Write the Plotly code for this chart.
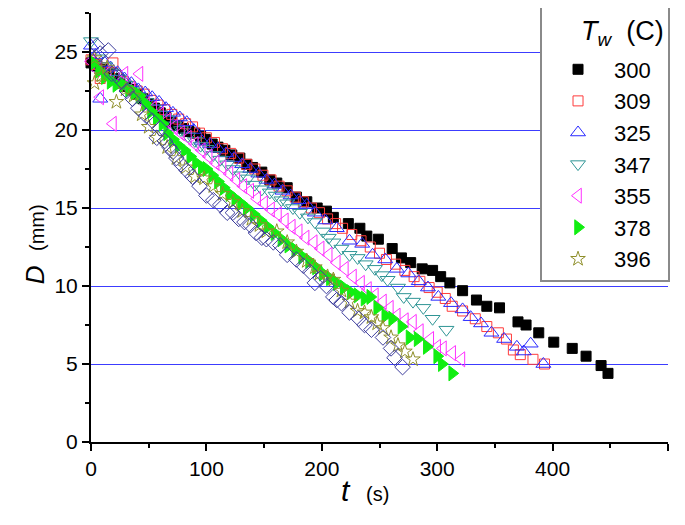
import plotly.graph_objects as go

# ---- data ----
t_300 = [0,5,10,15,20,25,30,35,40,45,50,55,60,65,70,75,80,85,90,95,99,105,110,116,122,129,135,140,148,155,161,170,178,187,196,204,210,223,233,239,249,261,269,277,287,296,303,311,322,334,343,354,370,377,388,401,417,429,442,448]
D_300 = [24.3,24.1,23.9,23.6,23.3,23.0,22.8,22.6,22.3,22.0,21.7,21.4,21.1,20.8,20.5,20.3,20.1,19.9,19.8,19.6,19.4,19.1,18.9,18.7,18.4,18.2,17.8,17.6,17.3,16.8,16.6,16.3,15.7,15.4,15.0,14.8,14.4,14.0,13.7,13.2,13.0,12.4,11.8,11.5,11.1,11.0,10.6,10.2,9.7,9.1,8.7,8.6,7.7,7.5,7.0,6.4,6.0,5.5,4.9,4.4]

t_309 = [0,5,8,10,16,19,22,28,34,40,46,52,58,64,70,76,82,88,94,100,107,114,121,128,135,142,149,156,163,170,177,184,191,198,205,212,218,226,234,242,250,256,264,272,280,285,293,300,307,313,322,333,343,353,360,366,372,383,393]
D_309 = [24.5,24.2,23.3,24.0,23.7,24.3,23.5,23.1,22.8,22.5,22.3,21.9,21.6,21.3,21.0,20.7,20.4,20.2,19.8,19.5,19.2,18.8,18.5,18.2,17.8,17.5,17.1,16.8,16.4,16.1,15.7,15.4,15.0,14.7,14.3,14.0,13.7,13.3,12.9,12.5,12.1,11.7,11.4,11.0,10.6,10.3,9.9,9.6,9.2,8.7,8.4,7.9,7.4,7.0,6.6,5.9,5.6,5.3,5.0]

t_325 = [0,4,8,12,17,23,29,35,41,47,53,59,65,71,77,83,89,96,103,110,117,124,131,138,145,152,159,166,173,180,187,194,203,213,224,235,244,255,265,275,284,292,301,312,322,329,338,347,358,369,375,381,392]
D_325 = [25.4,24.8,22.0,24.3,24.0,23.7,23.3,23.0,22.6,22.4,22.1,21.8,21.4,21.1,20.8,20.5,20.0,19.3,19.1,18.8,18.5,18.2,17.8,17.5,17.2,16.8,16.5,16.1,15.8,15.5,15.2,14.7,14.2,13.7,12.9,12.7,12.0,11.7,11.1,10.8,10.3,9.9,9.3,8.9,8.5,8.0,7.6,7.0,6.6,6.1,5.8,6.3,5.0]

t_347 = [0,6,12,18,24,30,36,42,48,54,60,66,72,78,84,90,95,100,106,112,118,123,130,136,142,148,155,160,165,170,175,181,188,194,201,206,210,217,224,231,238,246,252,257,266,271,279,288,296,308]
D_347 = [25.7,24.6,24.1,23.7,23.3,22.9,22.5,22.1,21.8,21.4,21.0,20.7,20.3,20.0,19.6,19.3,19.0,18.8,18.4,18.1,17.8,17.5,17.1,16.9,16.5,16.2,16.0,15.8,15.5,15.3,15.0,14.7,14.4,14.1,13.5,13.1,12.8,12.4,12.0,11.8,11.4,11.1,10.7,10.4,9.9,9.3,9.0,8.6,7.9,7.2]

t_355 = [0,5,8,14,19,24,29,35,42,48,54,60,66,72,78,84,90,96,102,108,114,120,126,132,138,144,150,156,162,168,174,180,186,193,199,206,213,220,227,234,240,246,253,259,265,272,279,285,294,300,305,313,321]
D_355 = [24.4,23.9,22.1,23.6,20.4,23.0,23.6,22.6,23.6,21.6,21.4,21.0,20.6,20.2,19.8,19.5,19.1,18.7,18.3,17.9,17.6,17.2,16.8,16.4,16.1,15.6,15.3,14.9,14.6,14.2,13.8,13.5,13.1,12.8,12.4,12.0,11.5,11.1,10.6,10.2,9.8,9.4,9.0,8.6,8.1,7.8,7.7,7.1,6.6,6.1,6.0,5.7,5.3]

t_378 = [2,7,12,17,22,28,33,38,42,47,52,57,62,66,71,76,81,86,91,96,100,105,110,115,120,125,130,135,141,147,153,159,165,171,177,183,189,195,201,207,213,219,225,231,237,242,248,255,261,269,276,283,291,300,304,313]
D_378 = [24.3,23.8,23.4,23.1,22.9,22.9,22.6,22.4,22.2,21.7,21.2,20.8,20.4,19.8,19.4,19.0,18.7,18.3,17.9,17.6,17.5,17.1,16.7,16.3,15.9,15.6,15.3,15.0,14.6,14.2,13.8,13.4,13.0,12.6,12.3,11.9,11.6,11.2,10.8,10.5,10.2,9.9,9.6,9.4,9.2,9.3,8.6,8.1,7.9,7.4,6.7,6.6,6.1,5.5,5.0,4.4]

t_396 = [3,3,9,14,22,30,37,44,50,57,66,74,82,90,98,106,114,123,131,139,146,152,161,170,178,187,194,198,205,210,217,224,231,237,243,248,253,260,266,272,279]
D_396 = [24.6,23.0,23.5,24.0,21.8,22.6,22.2,21.0,20.2,19.5,18.9,18.2,17.6,17.0,16.9,16.4,15.9,15.4,14.8,14.3,13.9,13.5,13.5,12.8,12.2,11.6,11.2,10.8,10.6,10.4,9.7,9.0,8.4,8.3,8.0,7.6,7.3,6.7,6.2,5.8,5.3]

# unlabeled diamond series (not in legend)
t_dia = [5,8,15,18,22,27,31,36,41,48,53,57,60,64,68,71,74,78,83,88,94,100,106,112,118,123,128,133,138,143,148,152,158,164,170,178,184,190,194,199,204,210,213,217,224,232,237,243,253,260,263,270]
D_dia = [25.4,24.9,25.1,23.6,23.5,23.1,22.5,22.0,21.4,20.9,20.6,19.5,20.1,19.3,18.9,18.6,18.2,17.8,17.4,17.0,16.4,15.8,15.5,15.2,14.7,14.7,14.3,14.1,13.9,13.4,13.1,13.0,12.8,12.6,12.0,11.7,11.3,10.9,10.2,10.5,10.0,9.3,9.1,8.9,8.3,7.9,7.5,7.2,6.7,6.0,5.4,4.8]

labels = ["300", "309", "325", "347", "355", "378", "396"]
x_ticks = [0, 100, 200, 300, 400, 500]
y_ticks = [0, 5, 10, 15, 20, 25]

series = [
    (t_300, D_300, labels[0], "square", "black", 10),
    (t_309, D_309, labels[1], "square-open", "#ff3b3b", 10),
    (t_325, D_325, labels[2], "triangle-up-open", "#2a2aff", 13),
    (t_347, D_347, labels[3], "triangle-down-open", "#2f9595", 13),
    (t_355, D_355, labels[4], "triangle-left-open", "#ff30ff", 13),
    (t_378, D_378, labels[5], "triangle-right", "#11ee11", 13),
    (t_396, D_396, labels[6], "star-open", "#8f8f2a", 11),
]

fig = go.Figure()
for tx, dy, name, sym, col, sz in series:
    fig.add_trace(go.Scatter(
        x=tx, y=dy, mode="markers", name=name + "\u00a0\u00a0", cliponaxis=False,
        marker=dict(symbol=sym, color=col, size=sz, line=dict(color=col, width=1)),
    ))
fig.add_trace(go.Scatter(
    x=t_dia, y=D_dia, mode="markers", showlegend=False, cliponaxis=False,
    marker=dict(symbol="diamond-open", color="#3d3d9c", size=12, line=dict(color="#3d3d9c", width=1)),
))

font_family = "Liberation Sans, Arial, sans-serif"
# page body has an 8px default margin, so the figure is 8px smaller
fig.update_layout(
    width=677, height=517,
    margin=dict(l=83, r=17, t=5, b=83, autoexpand=False),
    paper_bgcolor="white", plot_bgcolor="white",
    font=dict(family=font_family, color="black", size=21),
    xaxis=dict(
        range=[0, 500], tickvals=x_ticks, showgrid=False, zeroline=False, automargin=False,
        showline=True, linecolor="black", linewidth=2,
        ticks="outside", ticklen=7, tickwidth=1.5, tickcolor="black",
        tickfont=dict(size=21),
        minor=dict(dtick=50, ticks="outside", ticklen=4, tickwidth=1.5, tickcolor="black"),
    ),
    yaxis=dict(
        range=[0, 27.5], tickvals=y_ticks, showgrid=True, gridcolor="rgb(60,60,255)", gridwidth=1,
        zeroline=False, showline=True, linecolor="black", linewidth=2, automargin=False,
        ticks="outside", ticklen=7, tickwidth=1.5, tickcolor="black",
        tickfont=dict(size=21),
        minor=dict(dtick=2.5, ticks="outside", ticklen=4, tickwidth=1.5, tickcolor="black", showgrid=False),
    ),
    legend=dict(
        x=1.0035, y=1.028, xanchor="right", yanchor="top",
        bgcolor="white", bordercolor="#8a8a8a", borderwidth=2,
        font=dict(size=22, family=font_family),
        itemwidth=62, maxheight=520,
        title=dict(text="\u00a0", font=dict(size=35, family=font_family)),
        tracegroupgap=0,
    ),
    annotations=[
        dict(text="<i>T</i><sub><i>w</i></sub>\u00a0\u00a0(C)",
             xref="paper", yref="paper", x=0.922, y=0.953, xanchor="center", yanchor="middle",
             showarrow=False, font=dict(size=27, family=font_family)),
        dict(text="<i>t</i>\u00a0\u00a0<span style='font-size:20px'>(s)</span>",
             xref="paper", yref="paper", x=0.475, y=-0.112, xanchor="center", yanchor="middle",
             showarrow=False, font=dict(size=30, family=font_family)),
        dict(text="<i>D</i>\u00a0\u00a0<span style='font-size:20px'>(mm)</span>",
             xref="paper", yref="paper", x=-0.097, y=0.461, xanchor="center", yanchor="middle",
             textangle=-90, showarrow=False, font=dict(size=26, family=font_family)),
    ],
)

fig.write_html("out.html")
